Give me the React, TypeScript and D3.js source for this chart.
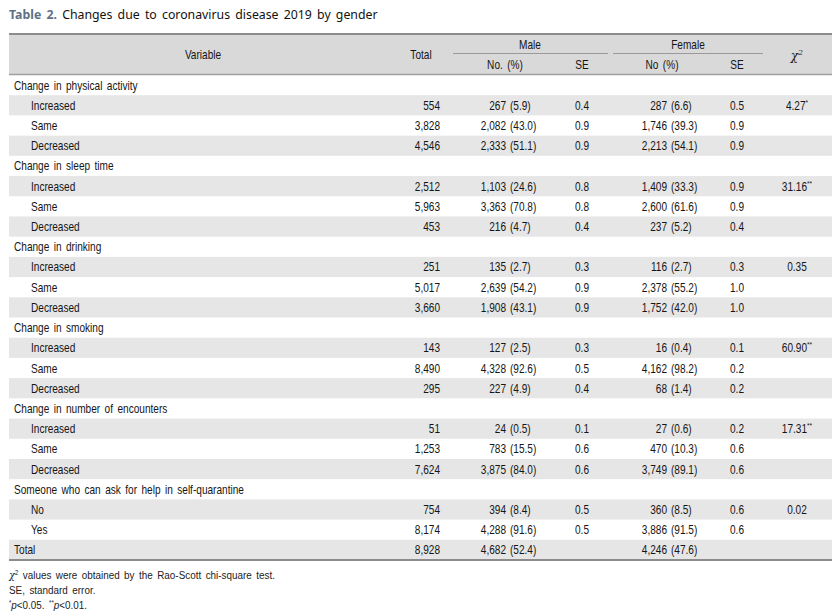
import React from 'react';
import * as d3 from 'd3';

// groups and their sub rows
const groups = [
  'Change in physical activity',
  'Change in sleep time',
  'Change in drinking',
  'Change in smoking',
  'Change in number of encounters',
  'Someone who can ask for help in self-quarantine',
];
const levels = [
  ['Increased', 'Same', 'Decreased'],
  ['Increased', 'Same', 'Decreased'],
  ['Increased', 'Same', 'Decreased'],
  ['Increased', 'Same', 'Decreased'],
  ['Increased', 'Same', 'Decreased'],
  ['No', 'Yes'],
];
const totals = [[554, 3828, 4546], [2512, 5963, 453], [251, 5017, 3660], [143, 8490, 295], [51, 1253, 7624], [754, 8174]];
const maleN = [[267, 2082, 2333], [1103, 3363, 216], [135, 2639, 1908], [127, 4328, 227], [24, 783, 3875], [394, 4288]];
const malePct = [['5.9', '43.0', '51.1'], ['24.6', '70.8', '4.7'], ['2.7', '54.2', '43.1'], ['2.5', '92.6', '4.9'], ['0.5', '15.5', '84.0'], ['8.4', '91.6']];
const maleSE = [['0.4', '0.9', '0.9'], ['0.8', '0.8', '0.4'], ['0.3', '0.9', '0.9'], ['0.3', '0.5', '0.4'], ['0.1', '0.6', '0.6'], ['0.5', '0.5']];
const femaleN = [[287, 1746, 2213], [1409, 2600, 237], [116, 2378, 1752], [16, 4162, 68], [27, 470, 3749], [360, 3886]];
const femalePct = [['6.6', '39.3', '54.1'], ['33.3', '61.6', '5.2'], ['2.7', '55.2', '42.0'], ['0.4', '98.2', '1.4'], ['0.6', '10.3', '89.1'], ['8.5', '91.5']];
const femaleSE = [['0.5', '0.9', '0.9'], ['0.9', '0.9', '0.4'], ['0.3', '1.0', '1.0'], ['0.1', '0.2', '0.2'], ['0.2', '0.6', '0.6'], ['0.6', '0.6']];
const chi2 = ['4.27', '31.16', '0.35', '60.90', '17.31', '0.02'];
const chi2Sig = ['*', '**', '', '**', '**', ''];
const grandTotal = 8928;
const totalMale = [4682, '52.4'];
const totalFemale = [4246, '47.6'];

const W = 832;
const H = 615;
const FONT = '"Liberation Sans", Arial, sans-serif';
const SX = 0.82; // squeeze to mimic the condensed face
const fmt = d3.format(',');

type Row = {
  kind: 'group' | 'item' | 'total';
  label: string;
  total?: number;
  mN?: number; mP?: string; mSE?: string;
  fN?: number; fP?: string; fSE?: string;
  chi?: string; sig?: string;
  shade: boolean;
};

// narrow text helper
function T({ x, y, anchor = 'start', size = 12.3, sx = SX, children }: any) {
  return (
    <g transform={`translate(${x},${y}) scale(${sx},1)`}>
      <text textAnchor={anchor} fontFamily={FONT} fontSize={size} fill="#151515" wordSpacing={2}>
        {children}
      </text>
    </g>
  );
}

export default function App() {
  const rows: Row[] = [];
  groups.forEach((g, gi) => {
    rows.push({ kind: 'group', label: g, shade: false });
    levels[gi].forEach((lv, li) => {
      rows.push({
        kind: 'item',
        label: lv,
        total: totals[gi][li],
        mN: maleN[gi][li], mP: malePct[gi][li], mSE: maleSE[gi][li],
        fN: femaleN[gi][li], fP: femalePct[gi][li], fSE: femaleSE[gi][li],
        chi: li === 0 ? chi2[gi] : undefined,
        sig: li === 0 ? chi2Sig[gi] : undefined,
        shade: li % 2 === 0,
      });
    });
  });
  rows.push({
    kind: 'total', label: 'Total', total: grandTotal,
    mN: totalMale[0] as number, mP: totalMale[1] as string,
    fN: totalFemale[0] as number, fP: totalFemale[1] as string,
    shade: true,
  });

  const left = 9;
  const right = W;
  const headTop = 34;
  const headBot = 75;
  const y = d3.scaleLinear().domain([0, rows.length]).range([headBot, 560]);
  const rh = y(1) - y(0);

  // column anchors
  const col = {
    variable: 203,
    total: 440,
    totalHead: 421,
    mNum: 506,
    mHead: 530,
    mNoHead: 505,
    mSE: 582,
    fNum: 667,
    fHead: 688,
    fNoHead: 662,
    fSE: 737,
    chi: 797,
  };

  return (
    <svg width={W} height={H} style={{ position: 'absolute', left: 0, top: 0, background: '#fff' }}>
      <text x={left} y={19} fontFamily='"Noto Sans", "Open Sans", sans-serif' fontSize={12.3} fill="#111" wordSpacing={2}>
        <tspan fontWeight="bold" fill="#5f7184">Table 2.</tspan>
        <tspan> Changes due to coronavirus disease 2019 by gender</tspan>
      </text>

      {/* header */}
      <rect x={left} y={headTop} width={right - left} height={headBot - headTop} fill="#d9d9d9" />
      <line x1={left} x2={right} y1={headTop} y2={headTop} stroke="#8c8c8c" strokeWidth={2} />
      <line x1={left} x2={right} y1={headBot - 0.5} y2={headBot - 0.5} stroke="#a0a0a0" strokeWidth={1.5} />
      <line x1={453} x2={608} y1={53.5} y2={53.5} stroke="#9a9a9a" strokeWidth={1} />
      <line x1={613} x2={763} y1={53.5} y2={53.5} stroke="#9a9a9a" strokeWidth={1} />
      <T x={col.variable} y={59} anchor="middle">Variable</T>
      <T x={col.totalHead} y={59} anchor="middle">Total</T>
      <T x={col.mHead} y={49} anchor="middle">Male</T>
      <T x={col.fHead} y={49} anchor="middle">Female</T>
      <T x={col.mNoHead} y={69} anchor="middle">No. (%)</T>
      <T x={col.mSE} y={69} anchor="middle">SE</T>
      <T x={col.fNoHead} y={69} anchor="middle">No (%)</T>
      <T x={col.fSE} y={69} anchor="middle">SE</T>
      <text x={col.chi} y={60} textAnchor="middle" fontFamily='"DejaVu Serif", serif' fontStyle="italic" fontSize={12} fill="#222">
        χ<tspan dy={-5} fontSize={8}>2</tspan>
      </text>

      {/* body */}
      {rows.map((r, i) => {
        const top = y(i);
        const ty = top + rh / 2 + 4.5;
        return (
          <g key={i}>
            {r.shade && <rect x={left} y={top} width={right - left} height={rh} fill="#e6e6e6" />}
            <T x={r.kind === 'item' ? 31 : 14} y={ty}>{r.label}</T>
            {r.total !== undefined && <T x={col.total} y={ty} anchor="end">{fmt(r.total)}</T>}
            {r.mN !== undefined && <T x={col.mNum} y={ty} anchor="end">{fmt(r.mN)}</T>}
            {r.mP !== undefined && <T x={col.mNum + 4} y={ty}>({r.mP})</T>}
            {r.mSE && <T x={col.mSE} y={ty} anchor="middle">{r.mSE}</T>}
            {r.fN !== undefined && <T x={col.fNum} y={ty} anchor="end">{fmt(r.fN)}</T>}
            {r.fP !== undefined && <T x={col.fNum + 4} y={ty}>({r.fP})</T>}
            {r.fSE && <T x={col.fSE} y={ty} anchor="middle">{r.fSE}</T>}
            {r.chi && (
              <T x={col.chi} y={ty} anchor="middle">
                {r.chi}
                {r.sig && <tspan dy={-5} fontSize={8}>{r.sig}</tspan>}
              </T>
            )}
          </g>
        );
      })}
      <line x1={left} x2={right} y1={560} y2={560} stroke="#8c8c8c" strokeWidth={2} />

      {/* footnotes */}
      <g transform={`translate(${left},0) scale(0.86,1)`} fontFamily={FONT} fontSize={11.5} fill="#222" wordSpacing={2}>
        <text x={0} y={579}>
          <tspan fontFamily='"DejaVu Serif", serif' fontStyle="italic">χ</tspan>
          <tspan dy={-4} fontSize={7}>2</tspan>
          <tspan dy={4}> values were obtained by the Rao-Scott chi-square test.</tspan>
        </text>
        <text x={0} y={594}>SE, standard error.</text>
        <text x={0} y={609}>
          <tspan dy={-4} fontSize={7}>*</tspan>
          <tspan dy={4} fontStyle="italic">p</tspan>
          <tspan>&lt;0.05. </tspan>
          <tspan dy={-4} fontSize={7}>**</tspan>
          <tspan dy={4} fontStyle="italic">p</tspan>
          <tspan>&lt;0.01.</tspan>
        </text>
      </g>
    </svg>
  );
}
